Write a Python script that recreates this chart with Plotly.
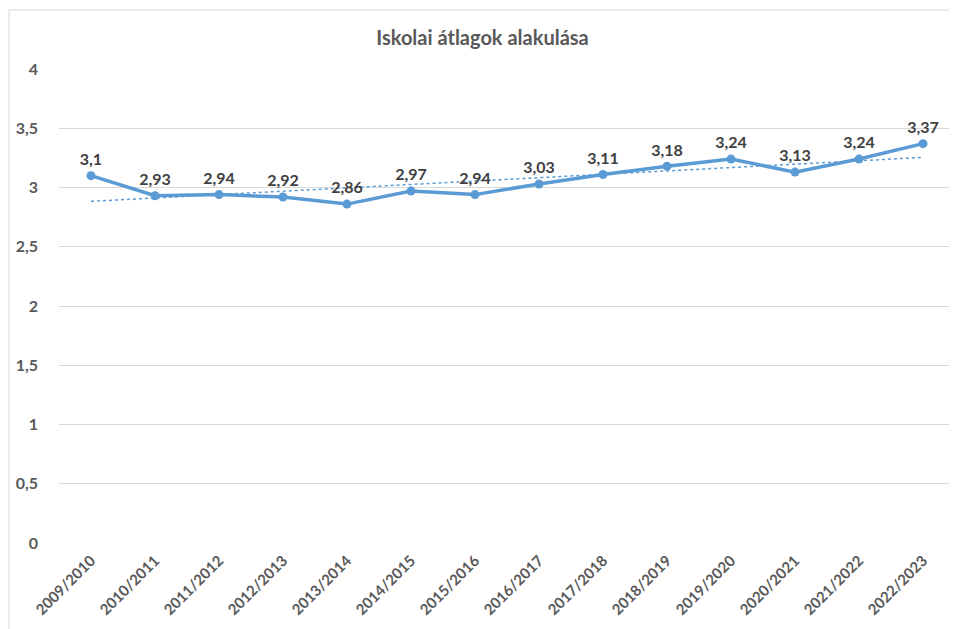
import numpy as np
import plotly.graph_objects as go

years = ["2009/2010", "2010/2011", "2011/2012", "2012/2013", "2013/2014", "2014/2015",
         "2015/2016", "2016/2017", "2017/2018", "2018/2019", "2019/2020", "2020/2021",
         "2021/2022", "2022/2023"]
averages = [3.1, 2.93, 2.94, 2.92, 2.86, 2.97, 2.94, 3.03, 3.11, 3.18, 3.24, 3.13, 3.24, 3.37]
y_ticks = [0, 0.5, 1, 1.5, 2, 2.5, 3, 3.5, 4]
y_tick_labels = ["0", "0,5", "1", "1,5", "2", "2,5", "3", "3,5", "4"]

idx = np.arange(len(averages))
slope, intercept = np.polyfit(idx, averages, 1)
trend = slope * idx + intercept

FONT = "Lato, Open Sans, sans-serif"
GRAY = "#595959"
BLUE = "#5B9BD5"

fig = go.Figure()
fig.add_trace(go.Scatter(
    x=years, y=trend, mode="lines",
    line=dict(color=BLUE, width=1.5, dash="dot"),
    hoverinfo="skip", showlegend=False,
))
fig.add_trace(go.Scatter(
    x=years, y=averages, mode="lines+markers+text",
    line=dict(color=BLUE, width=3.5),
    marker=dict(color=BLUE, size=9),
    text=[str(v).replace(".", ",") for v in averages],
    textposition="top center",
    textfont=dict(family=FONT, size=16, color="#404040", weight="bold"),
    showlegend=False,
))

fig.update_layout(
    width=949, height=621,
    margin=dict(l=51, r=2, t=61, b=86, autoexpand=False),
    paper_bgcolor="white", plot_bgcolor="white",
    title=dict(text="Iskolai átlagok alakulása", x=0.5, xanchor="center",
               y=0.952, yanchor="middle",
               font=dict(family=FONT, size=20, color=GRAY, weight="bold")),
    xaxis=dict(type="category", tickangle=-45, showgrid=False, showline=False,
               ticks="", range=[-0.5, 13.5], automargin=False, ticklabelstandoff=5,
               tickfont=dict(family=FONT, size=15, color=GRAY, weight="bold")),
    yaxis=dict(range=[0, 4], tickvals=y_ticks, ticktext=y_tick_labels,
               showgrid=True, gridcolor="#D9D9D9", gridwidth=1, zeroline=False,
               showline=False, ticks="", ticklabelstandoff=20, automargin=False,
               tickfont=dict(family=FONT, size=16, color=GRAY, weight="bold")),
    shapes=[dict(type="rect", xref="paper", yref="paper", x0=-0.0558, x1=1.01,
                 y0=-0.25, y1=1.1245, line=dict(color="#D9D9D9", width=1))],
)

fig.write_html("out.html")
